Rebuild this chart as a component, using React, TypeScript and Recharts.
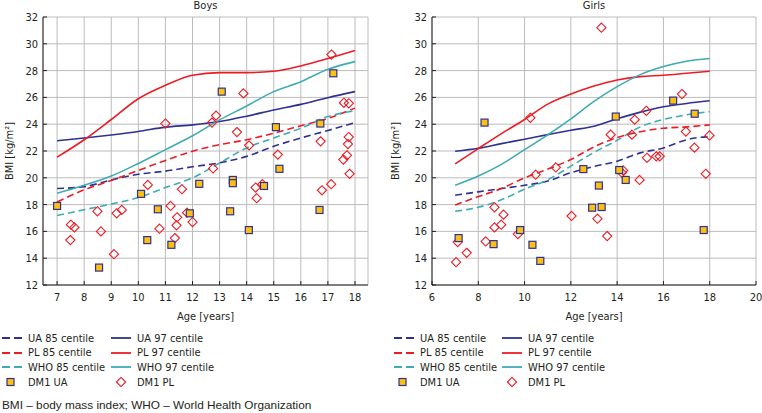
import { ComposedChart, Line, Scatter, XAxis, YAxis, CartesianGrid } from "recharts";

const ages = [7, 8, 9, 10, 11, 12, 13, 14, 15, 16, 17, 18];

// boys centiles
const boysUa85 = [19.2, 19.34, 19.84, 20.26, 20.5, 20.82, 21.12, 21.6, 22.35, 22.97, 23.53, 24.12];
const boysUa97 = [22.77, 22.97, 23.2, 23.46, 23.78, 23.95, 24.2, 24.6, 25.06, 25.48, 25.98, 26.43];
const boysPl85 = [18.2, 19.1, 19.8, 20.55, 21.3, 21.98, 22.47, 22.84, 23.33, 23.88, 24.44, 25.2];
const boysPl97 = [21.54, 22.84, 24.35, 25.9, 26.9, 27.65, 27.85, 27.85, 27.95, 28.35, 28.9, 29.5];
const boysWho85 = [17.18, 17.62, 18.04, 18.53, 19.27, 20.0, 21.1, 22.23, 22.97, 23.7, 24.57, 24.99];
const boysWho97 = [18.85, 19.44, 20.13, 21.07, 22.1, 23.14, 24.32, 25.36, 26.43, 27.17, 28.1, 28.67];

// girls centiles
const girlsUa85 = [18.7, 18.95, 19.2, 19.44, 19.76, 20.38, 20.85, 21.24, 21.86, 22.23, 22.84, 23.09];
const girlsUa97 = [21.98, 22.2, 22.55, 22.88, 23.22, 23.55, 23.85, 24.4, 24.9, 25.3, 25.55, 25.75];
const girlsPl85 = [17.97, 18.6, 19.2, 20.0, 20.65, 21.36, 22.3, 23.0, 23.44, 23.7, 23.8, 23.95];
const girlsPl97 = [21.04, 22.18, 23.3, 24.35, 25.5, 26.25, 26.85, 27.3, 27.55, 27.65, 27.8, 27.95];
const girlsWho85 = [17.5, 17.8, 18.36, 19.15, 19.85, 20.87, 21.9, 22.8, 23.8, 24.35, 24.7, 24.94];
const girlsWho97 = [19.44, 20.13, 21.0, 22.1, 23.2, 24.4, 25.7, 26.8, 27.7, 28.3, 28.7, 28.9];

// patients [age, bmi]
const boysDm1Ua = [
  [7, 17.9], [8.55, 13.3], [10.1, 18.8], [10.33, 15.35], [10.72, 17.65], [11.22, 15.0], [11.9, 17.35],
  [12.25, 19.55], [13.08, 26.43], [13.39, 17.5], [13.49, 19.84], [13.49, 19.6], [14.08, 16.1], [14.64, 19.39],
  [15.08, 23.78], [15.21, 20.67], [16.69, 17.6], [16.72, 24.05], [17.2, 27.8],
];
const boysDm1Pl = [
  [7.49, 15.35], [7.51, 16.5], [7.64, 16.3], [8.49, 17.5], [8.62, 16.0], [9.1, 14.3], [9.2, 17.35], [9.39, 17.6],
  [10.35, 19.47], [10.78, 16.2], [11.0, 24.05], [11.19, 17.9], [11.35, 15.5], [11.41, 16.45], [11.43, 17.05],
  [11.61, 19.15], [11.8, 17.4], [12.0, 16.7], [12.72, 24.12], [12.76, 20.7], [12.87, 24.64], [13.64, 23.41],
  [13.88, 26.3], [14.09, 22.42], [14.33, 19.27], [14.37, 18.48], [14.58, 19.52], [15.15, 21.73], [16.73, 22.72],
  [16.78, 19.07], [17.12, 19.52], [17.13, 29.2], [17.57, 21.36], [17.59, 25.6], [17.7, 21.68], [17.74, 22.52],
  [17.77, 23.04], [17.77, 25.56], [17.8, 20.3],
];
const girlsDm1Ua = [
  [7.15, 15.5], [8.27, 24.12], [8.66, 15.05], [9.81, 16.1], [10.34, 15.0], [10.68, 13.8], [12.54, 20.65],
  [12.92, 17.77], [13.21, 19.42], [13.33, 17.82], [13.94, 24.57], [14.09, 20.58], [14.37, 19.84], [16.42, 25.76],
  [17.35, 24.78], [17.74, 16.1],
];
const girlsDm1Pl = [
  [7.04, 13.7], [7.11, 15.2], [7.5, 14.4], [8.32, 15.25], [8.7, 16.3], [8.7, 17.8], [8.99, 16.5], [9.09, 17.25],
  [9.71, 15.8], [10.25, 24.48], [10.48, 20.23], [11.35, 20.77], [12.03, 17.15], [13.15, 16.95], [13.32, 31.2],
  [13.57, 15.65], [13.72, 23.22], [14.2, 20.38], [14.26, 20.55], [14.64, 23.22], [14.76, 24.34], [14.97, 19.84],
  [15.26, 25.0], [15.29, 21.49], [15.69, 21.6], [15.84, 21.6], [16.8, 26.25], [16.97, 23.45], [17.34, 22.25],
  [17.83, 20.3], [17.99, 23.16],
];

const yTicks = [12, 14, 16, 18, 20, 22, 24, 26, 28, 30, 32];
const boysXTicks = [7, 8, 9, 10, 11, 12, 13, 14, 15, 16, 17, 18];
const girlsXTicks = [6, 8, 10, 12, 14, 16, 18, 20];

const NAVY = "#2e3192";
const RED = "#ed1c24";
const TEAL = "#3fabb3";
const GOLD = "#fdc010";
const INK = "#231f20";
const FONT = "'Liberation Sans Narrow', 'DejaVu Sans Condensed', Arial, sans-serif";

const toLine = (vals: number[]) => ages.map((x, i) => ({ x, y: vals[i] }));
const toPts = (pts: number[][]) => pts.map(([x, y]) => ({ x, y }));

const Square = (p: any) => (
  <rect x={p.cx - 3.5} y={p.cy - 3.5} width={7} height={7} fill={GOLD} stroke={NAVY} strokeWidth={1.2} />
);
const Diamond = (p: any) => (
  <path d={`M${p.cx},${p.cy - 4.6}L${p.cx + 4.6},${p.cy}L${p.cx},${p.cy + 4.6}L${p.cx - 4.6},${p.cy}Z`} fill="none" stroke={RED} strokeWidth={1.1} />
);

type Panel = {
  title: string;
  left: number;
  width: number;
  margin: { top: number; right: number; bottom: number; left: number };
  yWidth: number;
  xDomain: [number, number];
  xTicks: number[];
  ua85: number[];
  ua97: number[];
  pl85: number[];
  pl97: number[];
  who85: number[];
  who97: number[];
  dmUa: number[][];
  dmPl: number[][];
};

const tickStyle = { fontSize: 11, fill: INK, fontFamily: FONT };

function BmiPanel(p: Panel) {
  const plotLeft = p.left + p.margin.left + p.yWidth;
  const plotRight = p.left + p.width - p.margin.right;
  const dash = "7 4";
  const lines = [
    { d: p.ua85, c: NAVY, dash: true },
    { d: p.pl85, c: RED, dash: true },
    { d: p.who85, c: TEAL, dash: true },
    { d: p.ua97, c: NAVY, dash: false },
    { d: p.pl97, c: RED, dash: false },
    { d: p.who97, c: TEAL, dash: false },
  ];
  return (
    <>
      <div style={{ position: "absolute", top: -1, left: plotLeft, width: plotRight - plotLeft, textAlign: "center", fontFamily: FONT, fontSize: 11, lineHeight: "13px", color: INK }}>
        {p.title}
      </div>
      <div style={{ position: "absolute", top: 0, left: p.left }}>
        <ComposedChart width={p.width} height={330} margin={p.margin}>
          <CartesianGrid stroke="#bcbcbc" strokeWidth={1} />
          <XAxis
            type="number"
            dataKey="x"
            domain={p.xDomain}
            ticks={p.xTicks}
            allowDataOverflow
            height={22}
            tickSize={-4}
            tickMargin={12}
            tick={tickStyle}
            axisLine={{ stroke: INK }}
            tickLine={{ stroke: INK }}
            label={{ value: "Age [years]", position: "bottom", offset: 5, style: { ...tickStyle, fontSize: 11 } }}
          />
          <XAxis xAxisId="top" orientation="top" type="number" domain={p.xDomain} ticks={p.xTicks} allowDataOverflow height={0} tickSize={-4} tick={false} axisLine={{ stroke: INK }} tickLine={{ stroke: INK }} />
          <YAxis
            type="number"
            dataKey="y"
            domain={[12, 32]}
            ticks={yTicks}
            allowDataOverflow
            width={p.yWidth}
            tickSize={-4}
            tickMargin={9}
            tick={tickStyle}
            axisLine={{ stroke: INK }}
            tickLine={{ stroke: INK }}
            label={{ value: "BMI [kg/m²]", angle: -90, position: "insideLeft", offset: 5, style: { ...tickStyle, textAnchor: "middle" } }}
          />
          <YAxis yAxisId="right" orientation="right" type="number" domain={[12, 32]} ticks={yTicks} allowDataOverflow width={0} tickSize={-4} tick={false} axisLine={{ stroke: INK }} tickLine={{ stroke: INK }} />
          {lines.map((l, i) => (
            <Line
              key={i}
              data={toLine(l.d)}
              dataKey="y"
              type="monotone"
              stroke={l.c}
              strokeWidth={1.6}
              strokeDasharray={l.dash ? dash : undefined}
              dot={false}
              activeDot={false}
              isAnimationActive={false}
            />
          ))}
          <Scatter data={toPts(p.dmPl)} dataKey="y" shape={Diamond} isAnimationActive={false} />
          <Scatter data={toPts(p.dmUa)} dataKey="y" shape={Square} isAnimationActive={false} />
        </ComposedChart>
      </div>
    </>
  );
}

function LegendSwatch({ kind, color }: { kind: string; color: string }) {
  return (
    <svg width={22} height={10} style={{ display: "block" }}>
      {kind === "dash" && <line x1={0} y1={5} x2={20} y2={5} stroke={color} strokeWidth={1.8} strokeDasharray="8 4" />}
      {kind === "solid" && <line x1={0} y1={5} x2={20} y2={5} stroke={color} strokeWidth={1.8} />}
      {kind === "square" && <rect x={5} y={1.5} width={7} height={7} fill={GOLD} stroke={NAVY} strokeWidth={1.2} />}
      {kind === "diamond" && <path d="M10,0.4L14.6,5L10,9.6L5.4,5Z" fill="none" stroke={RED} strokeWidth={1.1} />}
    </svg>
  );
}

const legendCol1 = [
  { label: "UA 85 centile", kind: "dash", color: NAVY },
  { label: "PL 85 centile", kind: "dash", color: RED },
  { label: "WHO 85 centile", kind: "dash", color: TEAL },
  { label: "DM1 UA", kind: "square", color: NAVY },
];
const legendCol2 = [
  { label: "UA 97 centile", kind: "solid", color: NAVY },
  { label: "PL 97 centile", kind: "solid", color: RED },
  { label: "WHO 97 centile", kind: "solid", color: TEAL },
  { label: "DM1 PL", kind: "diamond", color: RED },
];
const legendRows = [338, 352.5, 367, 382];

function LegendBlock({ x1, x2 }: { x1: number; x2: number }) {
  const col = (items: typeof legendCol1, x: number) =>
    items.map((it, i) => (
      <div key={it.label} style={{ position: "absolute", left: x, top: legendRows[i] - 7, height: 14, display: "flex", alignItems: "center", gap: 4, fontFamily: FONT, fontSize: 11, color: INK, whiteSpace: "nowrap" }}>
        <LegendSwatch kind={it.kind} color={it.color} />
        <span>{it.label}</span>
      </div>
    ));
  return (
    <>
      {col(legendCol1, x1)}
      {col(legendCol2, x2)}
    </>
  );
}

export default function App() {
  return (
    <div style={{ position: "absolute", left: 0, top: 0, width: 762, height: 413, background: "#fff", overflow: "hidden" }}>
      <BmiPanel
        title="Boys"
        left={0}
        width={380}
        margin={{ top: 17, right: 12, bottom: 23, left: 4 }}
        yWidth={39}
        xDomain={[6.48, 18.48]}
        xTicks={boysXTicks}
        ua85={boysUa85}
        ua97={boysUa97}
        pl85={boysPl85}
        pl97={boysPl97}
        who85={boysWho85}
        who97={boysWho97}
        dmUa={boysDm1Ua}
        dmPl={boysDm1Pl}
      />
      <BmiPanel
        title="Girls"
        left={380}
        width={382}
        margin={{ top: 17, right: 6, bottom: 23, left: 10 }}
        yWidth={42}
        xDomain={[6, 20]}
        xTicks={girlsXTicks}
        ua85={girlsUa85}
        ua97={girlsUa97}
        pl85={girlsPl85}
        pl97={girlsPl97}
        who85={girlsWho85}
        who97={girlsWho97}
        dmUa={girlsDm1Ua}
        dmPl={girlsDm1Pl}
      />
      <LegendBlock x1={2} x2={111} />
      <LegendBlock x1={394} x2={502} />
      <div style={{ position: "absolute", left: 2, top: 398, fontFamily: "'Liberation Sans', Arial, sans-serif", fontSize: 11.8, color: INK, whiteSpace: "nowrap" }}>
        BMI – body mass index; WHO – World Health Organization
      </div>
    </div>
  );
}
